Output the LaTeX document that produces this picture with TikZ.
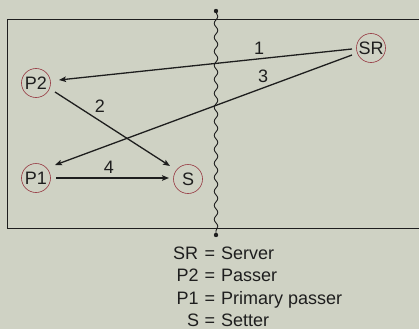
\documentclass[tikz,border=0pt]{standalone}
\usepackage{fontspec}
\setmainfont{Liberation Sans}
\usetikzlibrary{arrows.meta,decorations.pathmorphing,calc}
\definecolor{bg}{RGB}{207,210,196}
\definecolor{ring}{RGB}{150,55,65}
\definecolor{ink}{RGB}{30,30,30}
\begin{document}
\begin{tikzpicture}[x=1pt,y=-1pt,
  player/.style={circle,draw=ring,line width=0.6pt,inner sep=0pt,minimum size=29pt,text=ink,font=\fontsize{18}{18}\selectfont},
  lbl/.style={inner sep=0pt,text=ink,font=\fontsize{18}{18}\selectfont},
  leg/.style={inner sep=0pt,text=ink,anchor=base west,font=\fontsize{18}{18}\selectfont},
  pass/.style={draw=ink,line width=1.3pt,-{Stealth[length=7pt,width=5.5pt,inset=1.5pt]}}]
\fill[bg] (0,0) rectangle (419,329);
\useasboundingbox (0,0) rectangle (419,329);
% court
\draw[ink,line width=0.9pt] (440,19) -- (7,19) -- (7,228) -- (440,228);
% net
\draw[ink,line width=0.9pt,decorate,decoration={snake,segment length=14pt,amplitude=1.8pt}] (216,12) -- (216,234);
\fill[ink] (216,11) circle (2.2pt);
\fill[ink] (216,235) circle (2.2pt);
% players
\node[player] (SR) at (371,48) {SR};
\node[player] (P2) at (36,83) {P2};
\node[player] (P1) at (36,178) {P1};
\node[player] (S) at (188,179) {S};
% passes
\draw[pass] ($(SR)+(-19,1)$) -- ($(P2)+(23,-3)$);
\draw[pass] ($(SR)+(-19,7)$) -- ($(P1)+(19,-13)$);
\draw[pass] ($(P2)+(19,9)$) -- ($(S)+(-18,-13)$);
\draw[pass] ($(P1)+(20,0)$) -- ($(S)+(-19,-1)$);
% labels
\node[lbl] (n1) at (259,48.5) {1};
\node[lbl] (n3) at (263,76.7) {3};
\node[lbl] (n2) at (100,106.7) {2};
\node[lbl] (n4) at (109,167.5) {4};
% legend
\node[leg] (k1) at (173,259) {SR};
\node[leg] (e1) at (204.5,259) {=};
\node[leg] (v1) at (221,259) {Server};
\node[leg] (k2) at (176.5,281.5) {P2};
\node[leg] (e2) at (204.5,281.5) {=};
\node[leg] (v2) at (221,281.5) {Passer};
\node[leg] (k3) at (176.5,304) {P1};
\node[leg] (e3) at (204.5,304) {=};
\node[leg] (v3) at (221,304) {Primary passer};
\node[leg] (k4) at (187,326) {S};
\node[leg] (e4) at (204.5,326) {=};
\node[leg] (v4) at (221,326) {Setter};
\end{tikzpicture}
\end{document}
